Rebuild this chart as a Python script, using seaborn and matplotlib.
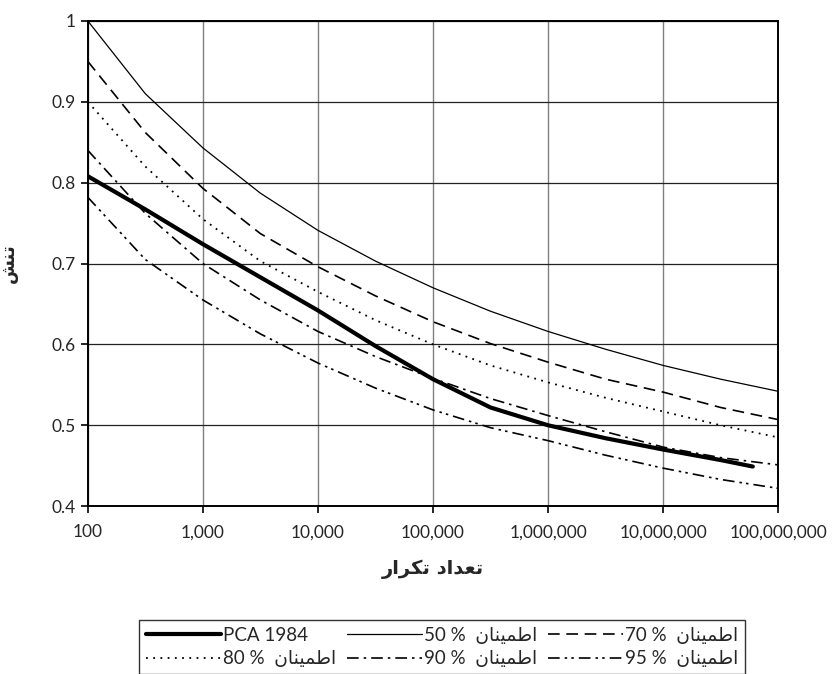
import matplotlib
matplotlib.use("Agg")
from matplotlib import pyplot as plt
from matplotlib.ticker import FuncFormatter, FixedLocator
from pandas import DataFrame
import seaborn as sns

# cycles (log spaced) and stress ratio
cycles = [1e2, 3.16e2, 1e3, 3.16e3, 1e4, 3.16e4, 1e5, 3.16e5, 1e6, 3.16e6, 1e7, 3.16e7, 1e8]
cycles_pca = [1e2, 3.16e2, 1e3, 3.16e3, 1e4, 3.16e4, 1e5, 3.16e5, 1e6, 3.16e6, 1e7, 3.16e7, 6e7]

stress_50 = [1.0, 0.91, 0.843, 0.787, 0.741, 0.703, 0.670, 0.641, 0.616, 0.594, 0.574, 0.557, 0.542]
stress_70 = [0.950, 0.862, 0.793, 0.737, 0.696, 0.660, 0.628, 0.601, 0.578, 0.557, 0.541, 0.522, 0.507]
stress_80 = [0.900, 0.820, 0.755, 0.703, 0.665, 0.630, 0.600, 0.574, 0.553, 0.534, 0.517, 0.500, 0.485]
stress_90 = [0.840, 0.762, 0.700, 0.655, 0.616, 0.585, 0.558, 0.533, 0.512, 0.492, 0.473, 0.460, 0.451]
stress_95 = [0.782, 0.705, 0.655, 0.613, 0.577, 0.546, 0.519, 0.497, 0.481, 0.463, 0.447, 0.433, 0.422]
stress_pca = [0.808, 0.767, 0.724, 0.683, 0.642, 0.598, 0.557, 0.522, 0.500, 0.484, 0.470, 0.457, 0.449]

x_ticks = [1e2, 1e3, 1e4, 1e5, 1e6, 1e7, 1e8]
y_ticks = [0.4, 0.5, 0.6, 0.7, 0.8, 0.9, 1.0]

# persian glyph forms: isolated, final, initial, medial
FORMS = {
    'ا': ('\uFE8D', '\uFE8E', None, None),
    'د': ('\uFEA9', '\uFEAA', None, None),
    'ر': ('\uFEAD', '\uFEAE', None, None),
    'ت': ('\uFE95', '\uFE96', '\uFE97', '\uFE98'),
    'ن': ('\uFEE5', '\uFEE6', '\uFEE7', '\uFEE8'),
    'ش': ('\uFEB5', '\uFEB6', '\uFEB7', '\uFEB8'),
    'ع': ('\uFEC9', '\uFECA', '\uFECB', '\uFECC'),
    'ک': ('\uFB8E', '\uFB8F', '\uFB90', '\uFB91'),
    'ط': ('\uFEC1', '\uFEC2', '\uFEC3', '\uFEC4'),
    'م': ('\uFEE1', '\uFEE2', '\uFEE3', '\uFEE4'),
    'ی': ('\uFBFC', '\uFBFD', '\uFBFE', '\uFBFF'),
}


def fa(text):
    # matplotlib does no arabic shaping, so pick the forms and reverse by hand
    out = []
    for i, ch in enumerate(text):
        f = FORMS.get(ch)
        if f is None:
            out.append(ch)
            continue
        prev = text[i - 1] if i > 0 else None
        nxt = text[i + 1] if i + 1 < len(text) else None
        jp = prev in FORMS and FORMS[prev][2] is not None
        jn = f[2] is not None and nxt in FORMS
        out.append(f[3] if jp and jn else f[1] if jp else f[2] if jn else f[0])
    return ''.join(reversed(out))


conf = fa('اطمینان')

sns.set_style("white")
plt.rcParams['font.family'] = ['Lato', 'DejaVu Sans']

fig, ax = plt.subplots(figsize=(8.36, 6.74), dpi=100)
fig.subplots_adjust(left=0.105, right=0.931, top=0.969, bottom=0.249)

series = [
    ("PCA 1984", cycles_pca, stress_pca, dict(lw=3.0, ls='-')),
    ("50 %  " + conf, cycles, stress_50, dict(lw=0.9, ls='-')),
    ("70 %  " + conf, cycles, stress_70, dict(lw=1.2, ls=(0, (7, 4)))),
    ("80 %  " + conf, cycles, stress_80, dict(lw=1.3, ls=(0, (1, 3)))),
    ("90 %  " + conf, cycles, stress_90, dict(lw=1.2, ls=(0, (7, 3, 1.5, 3)))),
    ("95 %  " + conf, cycles, stress_95, dict(lw=1.2, ls=(0, (7, 3, 1.5, 2.5, 1.5, 3)))),
]

handles = {}
for name, xs, ys, st in series:
    df = DataFrame({'N': xs, 'stress': ys})
    sns.lineplot(data=df, x='N', y='stress', ax=ax, color='black',
                 linewidth=st['lw'], linestyle=st['ls'], label=name, legend=False)
    handles[name] = ax.lines[-1]

ax.set_xscale('log')
ax.set_xlim(1e2, 1e8)
ax.set_ylim(0.4, 1.0)
ax.xaxis.set_major_locator(FixedLocator(x_ticks))
ax.xaxis.set_minor_locator(FixedLocator([]))
ax.xaxis.set_major_formatter(FuncFormatter(lambda v, p: f"{int(round(v)):,}"))
ax.set_yticks(y_ticks)
ax.yaxis.set_major_formatter(FuncFormatter(lambda v, p: "1" if v >= 0.999 else f"{v:.1f}"))

ax.grid(axis='x', color='#808080', lw=1.0)
ax.grid(axis='y', color='#222222', lw=0.9)
for s in ax.spines.values():
    s.set_color('black')
    s.set_linewidth(1.4)
ax.tick_params(axis='both', which='major', direction='out', length=5, width=1.2,
               color='black', labelsize=12.5, pad=4, bottom=True, left=True)
ax.tick_params(axis='x', pad=8)

ax.set_xlabel(fa('تعداد تکرار'), fontsize=14, fontweight='bold', labelpad=14,
              family=['DejaVu Sans'])
ax.set_ylabel(fa('تنش'), fontsize=13, fontweight='bold', labelpad=24,
              family=['DejaVu Sans'])

order = [series[i][0] for i in (0, 3, 1, 4, 2, 5)]
leg = fig.legend([handles[n] for n in order], order, ncol=3, loc='upper center',
                 bbox_to_anchor=(0.529, 0.094), bbox_transform=fig.transFigure,
                 frameon=True, fancybox=False, edgecolor='black', fontsize=13.5,
                 handlelength=4.0, handletextpad=0.1, columnspacing=0.6,
                 borderpad=0.35, labelspacing=0.35)
leg.get_frame().set_linewidth(1.0)

fig.savefig("out.png", dpi=100)
